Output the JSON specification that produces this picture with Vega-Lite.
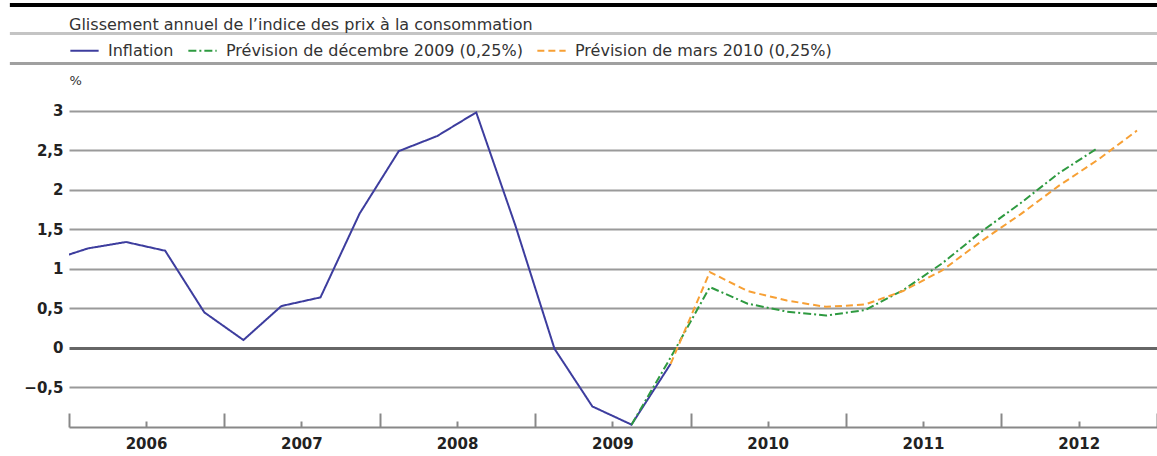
{
  "$schema": "https://vega.github.io/schema/vega-lite/v6.json",
  "autosize": "none",
  "padding": {"left": 69, "top": 95, "right": 0, "bottom": 29},
  "width": 1088,
  "height": 332,
  "background": "white",
  "title": {
    "text": "Glissement annuel de l’indice des prix à la consommation",
    "anchor": "start",
    "frame": "group",
    "orient": "top",
    "offset": -43,
    "baseline": "alphabetic",
    "font": "DejaVu Sans",
    "fontSize": 16,
    "fontWeight": "normal",
    "color": "#333333"
  },
  "config": {
    "view": {"stroke": null},
    "legend": {
      "orient": "none",
      "legendX": 0,
      "legendY": -60,
      "direction": "horizontal",
      "title": null,
      "symbolType": "stroke",
      "symbolSize": 800,
      "symbolStrokeWidth": 2,
      "labelFont": "DejaVu Sans",
      "labelFontSize": 16,
      "labelColor": "#333333",
      "labelLimit": 500,
      "labelOffset": 8,
      "columnPadding": 10
    }
  },
  "layer": [
    {
      "data": {
        "values": [
          {"date": "2005-11-15", "series": "Inflation", "value": 1.10},
          {"date": "2006-02-15", "series": "Inflation", "value": 1.26},
          {"date": "2006-05-15", "series": "Inflation", "value": 1.34},
          {"date": "2006-08-15", "series": "Inflation", "value": 1.23},
          {"date": "2006-11-15", "series": "Inflation", "value": 0.45},
          {"date": "2007-02-15", "series": "Inflation", "value": 0.10},
          {"date": "2007-05-15", "series": "Inflation", "value": 0.53},
          {"date": "2007-08-15", "series": "Inflation", "value": 0.64},
          {"date": "2007-11-15", "series": "Inflation", "value": 1.70},
          {"date": "2008-02-15", "series": "Inflation", "value": 2.49},
          {"date": "2008-05-15", "series": "Inflation", "value": 2.68},
          {"date": "2008-08-15", "series": "Inflation", "value": 2.98},
          {"date": "2008-11-15", "series": "Inflation", "value": 1.55},
          {"date": "2009-02-15", "series": "Inflation", "value": -0.01},
          {"date": "2009-05-15", "series": "Inflation", "value": -0.74},
          {"date": "2009-08-15", "series": "Inflation", "value": -0.97},
          {"date": "2009-11-15", "series": "Inflation", "value": -0.20},
          {"date": "2009-08-15", "series": "Prévision de décembre 2009 (0,25%)", "value": -0.97},
          {"date": "2009-11-15", "series": "Prévision de décembre 2009 (0,25%)", "value": -0.12},
          {"date": "2010-02-15", "series": "Prévision de décembre 2009 (0,25%)", "value": 0.77},
          {"date": "2010-05-15", "series": "Prévision de décembre 2009 (0,25%)", "value": 0.56},
          {"date": "2010-08-15", "series": "Prévision de décembre 2009 (0,25%)", "value": 0.46},
          {"date": "2010-11-15", "series": "Prévision de décembre 2009 (0,25%)", "value": 0.41},
          {"date": "2011-02-15", "series": "Prévision de décembre 2009 (0,25%)", "value": 0.48},
          {"date": "2011-05-15", "series": "Prévision de décembre 2009 (0,25%)", "value": 0.73},
          {"date": "2011-08-15", "series": "Prévision de décembre 2009 (0,25%)", "value": 1.07},
          {"date": "2011-11-15", "series": "Prévision de décembre 2009 (0,25%)", "value": 1.47},
          {"date": "2012-02-15", "series": "Prévision de décembre 2009 (0,25%)", "value": 1.83},
          {"date": "2012-05-15", "series": "Prévision de décembre 2009 (0,25%)", "value": 2.21},
          {"date": "2012-08-15", "series": "Prévision de décembre 2009 (0,25%)", "value": 2.53},
          {"date": "2009-11-15", "series": "Prévision de mars 2010 (0,25%)", "value": -0.20},
          {"date": "2010-02-15", "series": "Prévision de mars 2010 (0,25%)", "value": 0.96},
          {"date": "2010-05-15", "series": "Prévision de mars 2010 (0,25%)", "value": 0.72},
          {"date": "2010-08-15", "series": "Prévision de mars 2010 (0,25%)", "value": 0.60},
          {"date": "2010-11-15", "series": "Prévision de mars 2010 (0,25%)", "value": 0.52},
          {"date": "2011-02-15", "series": "Prévision de mars 2010 (0,25%)", "value": 0.55},
          {"date": "2011-05-15", "series": "Prévision de mars 2010 (0,25%)", "value": 0.72},
          {"date": "2011-08-15", "series": "Prévision de mars 2010 (0,25%)", "value": 0.98},
          {"date": "2011-11-15", "series": "Prévision de mars 2010 (0,25%)", "value": 1.35},
          {"date": "2012-02-15", "series": "Prévision de mars 2010 (0,25%)", "value": 1.69},
          {"date": "2012-05-15", "series": "Prévision de mars 2010 (0,25%)", "value": 2.05},
          {"date": "2012-08-15", "series": "Prévision de mars 2010 (0,25%)", "value": 2.38},
          {"date": "2012-11-15", "series": "Prévision de mars 2010 (0,25%)", "value": 2.75}
        ]
      },
      "mark": {"type": "line", "clip": true, "strokeWidth": 2},
      "encoding": {
        "x": {
          "field": "date",
          "type": "temporal",
          "scale": {
            "type": "utc",
            "domain": [
              {"year": 2006, "month": 1, "date": 1, "utc": true},
              {"year": 2013, "month": 1, "date": 1, "utc": true}
            ]
          },
          "axis": {
            "title": null,
            "grid": false,
            "values": [
              {"year": 2006, "month": 1, "date": 1, "utc": true}, {"year": 2006, "month": 4, "date": 1, "utc": true}, {"year": 2006, "month": 7, "date": 1, "utc": true}, {"year": 2006, "month": 10, "date": 1, "utc": true},
              {"year": 2007, "month": 1, "date": 1, "utc": true}, {"year": 2007, "month": 4, "date": 1, "utc": true}, {"year": 2007, "month": 7, "date": 1, "utc": true}, {"year": 2007, "month": 10, "date": 1, "utc": true},
              {"year": 2008, "month": 1, "date": 1, "utc": true}, {"year": 2008, "month": 4, "date": 1, "utc": true}, {"year": 2008, "month": 7, "date": 1, "utc": true}, {"year": 2008, "month": 10, "date": 1, "utc": true},
              {"year": 2009, "month": 1, "date": 1, "utc": true}, {"year": 2009, "month": 4, "date": 1, "utc": true}, {"year": 2009, "month": 7, "date": 1, "utc": true}, {"year": 2009, "month": 10, "date": 1, "utc": true},
              {"year": 2010, "month": 1, "date": 1, "utc": true}, {"year": 2010, "month": 4, "date": 1, "utc": true}, {"year": 2010, "month": 7, "date": 1, "utc": true}, {"year": 2010, "month": 10, "date": 1, "utc": true},
              {"year": 2011, "month": 1, "date": 1, "utc": true}, {"year": 2011, "month": 4, "date": 1, "utc": true}, {"year": 2011, "month": 7, "date": 1, "utc": true}, {"year": 2011, "month": 10, "date": 1, "utc": true},
              {"year": 2012, "month": 1, "date": 1, "utc": true}, {"year": 2012, "month": 4, "date": 1, "utc": true}, {"year": 2012, "month": 7, "date": 1, "utc": true}, {"year": 2012, "month": 10, "date": 1, "utc": true},
              {"year": 2013, "month": 1, "date": 1, "utc": true}
            ],
            "tickSize": {"condition": {"test": "utcmonth(datum.value) == 0", "value": -14}, "value": -6},
            "tickColor": "#888888",
            "tickWidth": 2,
            "domainColor": "#888888",
            "domainWidth": 2,
            "labelExpr": "utcmonth(datum.value) == 6 ? utcFormat(datum.value, '%Y') : ''",
            "labelFont": "DejaVu Sans",
            "labelFontWeight": "bold",
            "labelFontSize": 15,
            "labelColor": "#222222",
            "labelPadding": 15,
            "labelFlush": false,
            "labelOverlap": false,
            "labelBound": false
          }
        },
        "y": {
          "field": "value",
          "type": "quantitative",
          "scale": {"domain": [-1, 3.2], "nice": false, "zero": false},
          "axis": {
            "title": "%",
            "titleAngle": 0,
            "titleX": 0,
            "titleY": -15,
            "titleAlign": "left",
            "titleBaseline": "middle",
            "titleFont": "DejaVu Sans",
            "titleFontWeight": "normal",
            "titleFontSize": 13,
            "titleColor": "#333333",
            "values": [-0.5, 0, 0.5, 1, 1.5, 2, 2.5, 3],
            "labelExpr": "replace(format(datum.value, ''), '.', ',')",
            "labelFont": "DejaVu Sans",
            "labelFontWeight": "bold",
            "labelFontSize": 15,
            "labelColor": "#222222",
            "labelPadding": 6,
            "ticks": false,
            "domain": false,
            "grid": true,
            "gridColor": {"condition": {"test": "datum.value === 0", "value": "#666666"}, "value": "#9a9a9a"},
            "gridWidth": {"condition": {"test": "datum.value === 0", "value": 3}, "value": 2}
          }
        },
        "color": {
          "field": "series",
          "type": "nominal",
          "scale": {
            "domain": ["Inflation", "Prévision de décembre 2009 (0,25%)", "Prévision de mars 2010 (0,25%)"],
            "range": ["#3d3d9e", "#2e9a40", "#f7a035"]
          }
        },
        "strokeDash": {
          "field": "series",
          "type": "nominal",
          "scale": {
            "domain": ["Inflation", "Prévision de décembre 2009 (0,25%)", "Prévision de mars 2010 (0,25%)"],
            "range": [[1, 0], [8, 3, 2, 3], [7, 4]]
          }
        }
      }
    },
    {
      "data": {"values": [{"band": "top"}]},
      "mark": {"type": "rule", "color": "#000000", "strokeWidth": 4, "clip": false},
      "encoding": {
        "x": {"datum": {"year": 2005, "month": 8, "date": 15, "utc": true}, "type": "temporal"},
        "x2": {"datum": {"year": 2013, "month": 1, "date": 1, "utc": true}},
        "y": {"datum": 4.3385, "type": "quantitative"}
      }
    },
    {
      "data": {"values": [{"band": "title"}]},
      "mark": {"type": "rule", "color": "#c4c4c4", "strokeWidth": 3, "clip": false},
      "encoding": {
        "x": {"datum": {"year": 2005, "month": 8, "date": 15, "utc": true}, "type": "temporal"},
        "x2": {"datum": {"year": 2013, "month": 1, "date": 1, "utc": true}},
        "y": {"datum": 3.977, "type": "quantitative"}
      }
    },
    {
      "data": {"values": [{"band": "legend"}]},
      "mark": {"type": "rule", "color": "#a0a0a0", "strokeWidth": 3, "clip": false},
      "encoding": {
        "x": {"datum": {"year": 2005, "month": 8, "date": 15, "utc": true}, "type": "temporal"},
        "x2": {"datum": {"year": 2013, "month": 1, "date": 1, "utc": true}},
        "y": {"datum": 3.598, "type": "quantitative"}
      }
    }
  ]
}
